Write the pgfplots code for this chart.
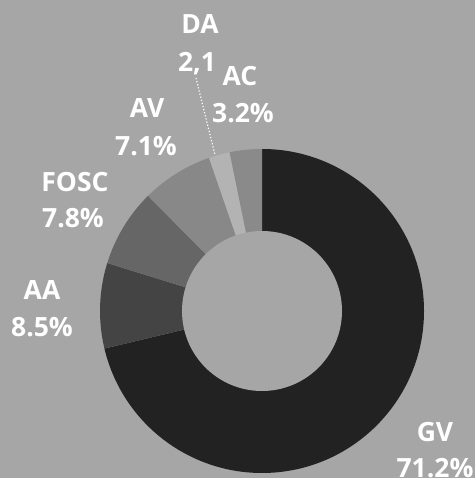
\documentclass[border=0pt]{standalone}
\usepackage{pgfplots}
\pgfplotsset{compat=1.18}
\usepackage{fontspec}
\setmainfont{Open Sans}

\definecolor{bg}{HTML}{A6A6A6}
\definecolor{cGV}{HTML}{222222}
\definecolor{cAA}{HTML}{444444}
\definecolor{cFOSC}{HTML}{666666}
\definecolor{cAV}{HTML}{888888}
\definecolor{cDA}{HTML}{B3B3B3}
\definecolor{cAC}{HTML}{8A8A8A}

% slice: #1 = share before it (%), #2 = share (%), #3 = colour; total is 99.9
\newcommand{\slice}[3]{%
  \fill[#3] (axis cs:0,0) -- ++({90-360/99.9*(#1)}:162pt)
    arc[start angle={90-360/99.9*(#1)}, end angle={90-360/99.9*(#1+#2)}, radius=162pt] -- cycle;}

\begin{document}
\begin{tikzpicture}
\begin{axis}[
    x=1pt, y=1pt,
    scale only axis,
    hide axis,
    xmin=-262, xmax=213,
    ymin=-167, ymax=311,
    clip=true,
]
\fill[bg] (axis cs:-262,-167) rectangle (axis cs:213,311);

\slice{0}{71.2}{cGV}
\slice{71.2}{8.5}{cAA}
\slice{79.7}{7.8}{cFOSC}
\slice{87.5}{7.1}{cAV}
\slice{94.6}{2.1}{cDA}
\slice{96.7}{3.2}{cAC}
\fill[bg] (axis cs:0,0) circle[radius=80];

\draw[white, line width=1.2pt, dotted] (axis cs:-66,233) -- (axis cs:-47,156);

\begin{scope}[every node/.style={text=white, font=\fontsize{26.5}{30}\selectfont\bfseries, anchor=base, inner sep=0pt}]
\node at (axis cs:-62,277) {DA};
\node at (axis cs:-65,239) {2,1};
\node at (axis cs:-22,225) {AC};
\node at (axis cs:-19,188) {3.2\%};
\node at (axis cs:-115,193) {AV};
\node at (axis cs:-116,155) {7.1\%};
\node at (axis cs:-187,119) {FOSC};
\node at (axis cs:-189,83) {7.8\%};
\node at (axis cs:-220,11) {AA};
\node at (axis cs:-220,-26) {8.5\%};
\node at (axis cs:173,-131) {GV};
\node at (axis cs:173,-167) {71.2\%};
\end{scope}
\end{axis}
\end{tikzpicture}
\end{document}
